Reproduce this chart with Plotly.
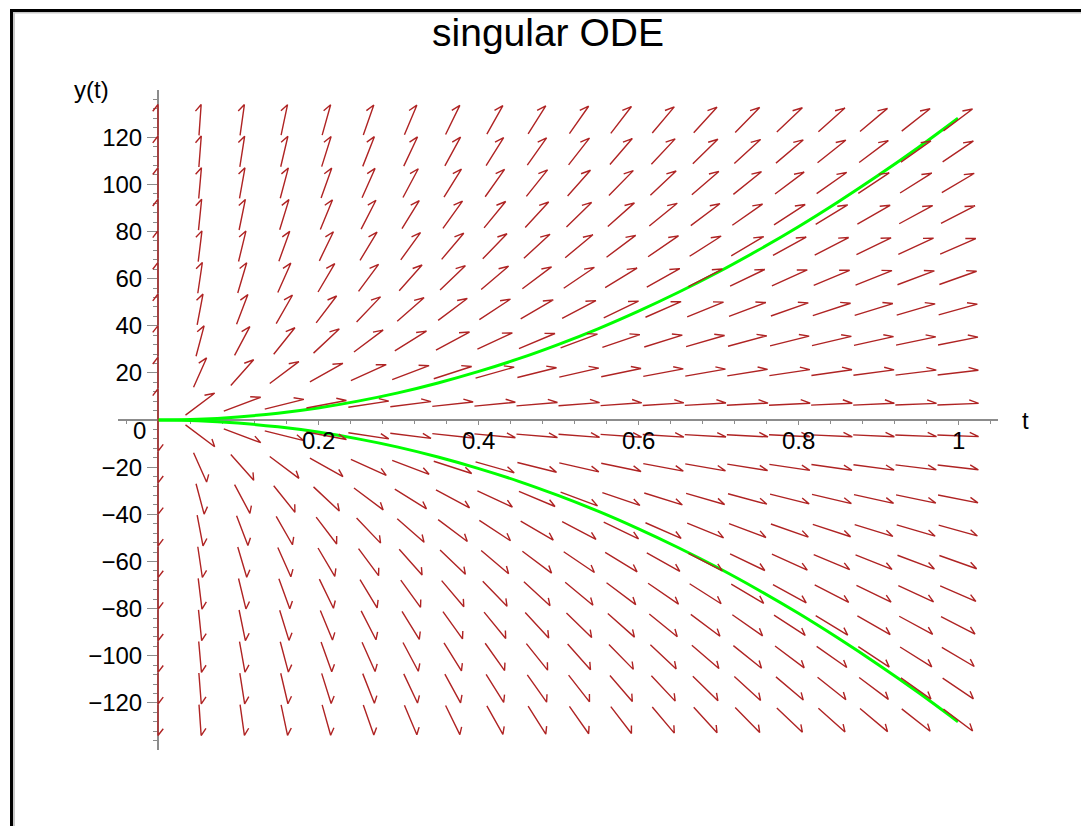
import math
import plotly.graph_objects as go

# ---------------- data ----------------
# direction-field grid (20 x 20)
t_grid = [0.0, 0.0526, 0.1053, 0.1579, 0.2105, 0.2632, 0.3158, 0.3684, 0.4211, 0.4737,
          0.5263, 0.5789, 0.6316, 0.6842, 0.7368, 0.7895, 0.8421, 0.8947, 0.9474, 1.0]
y_grid = [-127.3, -113.9, -100.5, -87.1, -73.7, -60.3, -46.9, -33.5, -20.1, -6.7,
          6.7, 20.1, 33.5, 46.9, 60.3, 73.7, 87.1, 100.5, 113.9, 127.3]

# the singular ODE  t*y' = 2*y
def ode_rhs(t, y):
    return 2.0 * y / t

# solution curves (green)
curve_t = [0.0, 0.05, 0.1, 0.15, 0.2, 0.25, 0.3, 0.35, 0.4, 0.45, 0.5,
           0.55, 0.6, 0.65, 0.7, 0.75, 0.8, 0.85, 0.9, 0.95, 1.0]
upper_y = [0, 0.3, 1.3, 2.9, 5.1, 8.0, 11.5, 15.7, 20.5, 25.9, 32.0,
           38.7, 46.1, 54.1, 62.7, 72.0, 81.9, 92.5, 103.7, 115.5, 128.0]
lower_y = [0, -0.3, -1.3, -2.9, -5.1, -8.0, -11.5, -15.7, -20.5, -25.9, -32.0,
           -38.7, -46.1, -54.1, -62.7, -72.0, -81.9, -92.5, -103.7, -115.5, -128.0]

# axis ticks
x_tickvals = [0.2, 0.4, 0.6, 0.8, 1.0]
x_ticktext = ["0.2", "0.4", "0.6", "0.8", "1"]
y_tickvals = [-120, -100, -80, -60, -40, -20, 20, 40, 60, 80, 100, 120]
y_ticktext = ["\u2212120", "\u2212100", "\u221280", "\u221260", "\u221240", "\u221220",
              "20", "40", "60", "80", "100", "120"]

# ---------------- build arrows (harpoon style) ----------------
dt_cell = t_grid[1] - t_grid[0]
dy_cell = y_grid[1] - y_grid[0]
L = 0.98          # arrow length in cell units
B = 0.25          # barb length in cell units
ANG = math.radians(30)

ax, ay = [], []
for t in t_grid:
    for y in y_grid:
        if t == 0:
            a, b = 0.0, (1.0 if y > 0 else -1.0)
        else:
            a, b = 1.0 / dt_cell, ode_rhs(t, y) / dy_cell
            n = math.hypot(a, b)
            a, b = a / n, b / n
        sx, sy = -a * L / 2, -b * L / 2
        ex, ey = a * L / 2, b * L / 2
        bx, by = -a, -b
        rx = bx * math.cos(-ANG) - by * math.sin(-ANG)
        ry = bx * math.sin(-ANG) + by * math.cos(-ANG)
        hx, hy = ex + rx * B, ey + ry * B
        ax += [t + sx * dt_cell, t + ex * dt_cell, t + hx * dt_cell, None]
        ay += [y + sy * dy_cell, y + ey * dy_cell, y + hy * dy_cell, None]

fig = go.Figure()
fig.add_trace(go.Scatter(x=curve_t, y=upper_y, mode="lines", line=dict(color="#00ff00", width=3, shape="spline"),
                         hoverinfo="skip", showlegend=False))
fig.add_trace(go.Scatter(x=curve_t, y=lower_y, mode="lines", line=dict(color="#00ff00", width=3, shape="spline"),
                         hoverinfo="skip", showlegend=False))
fig.add_trace(go.Scatter(x=ax, y=ay, mode="lines", line=dict(color="rgb(175,35,35)", width=1.4),
                         hoverinfo="skip", showlegend=False, connectgaps=False))

FONT = "Liberation Sans, Arial, Helvetica, sans-serif"
OFF = 8                      # page body margin of the html page
W, H = 1089 - OFF, 826 - OFF
ML, MT = 118 - OFF, 90 - OFF
PW, PH = 880, 660
MR, MB = W - ML - PW, H - MT - PH

def px(x):       # reference page pixel -> paper fraction
    return (x - OFF - ML) / PW

def py(y):
    return (MT + PH - (y - OFF)) / PH

x_minor = [round(-0.04 + 0.04 * i, 2) for i in range(28)]
y_minor = [-136 + 4 * i for i in range(69)]

annotations = [
    dict(text="y(t)", x=px(91), y=py(89), xref="paper", yref="paper", showarrow=False,
         xanchor="center", yanchor="middle", font=dict(family=FONT, size=24, color="black")),
    dict(text="t", x=px(1025), y=py(420), xref="paper", yref="paper", showarrow=False,
         xanchor="center", yanchor="middle", font=dict(family=FONT, size=24, color="black")),
    dict(text="0", x=px(139), y=py(431), xref="paper", yref="paper", showarrow=False,
         xanchor="center", yanchor="middle", font=dict(family=FONT, size=24, color="black")),
]
for v, s in zip(x_tickvals, x_ticktext):
    annotations.append(dict(text=s, x=v, y=py(440), xref="x", yref="paper", showarrow=False,
                            xanchor="center", yanchor="middle",
                            font=dict(family=FONT, size=24, color="black")))

fig.update_layout(
    width=W, height=H,
    margin=dict(l=ML, r=MR, t=MT, b=MB, autoexpand=False),
    paper_bgcolor="white", plot_bgcolor="white",
    showlegend=False,
    title=dict(text="singular ODE", x=(548 - OFF) / W, xref="container", xanchor="center",
               y=1 - (32 - OFF) / H, yref="container", yanchor="middle",
               font=dict(family=FONT, size=39, color="black")),
    xaxis=dict(range=[-0.05, 1.05], anchor="free", position=0.5, showline=True,
               linecolor="#8c8c8c", linewidth=2, showgrid=False, zeroline=False,
               ticks="outside", ticklen=4, tickwidth=1, tickcolor="#8c8c8c",
               tickmode="array", tickvals=x_tickvals, showticklabels=False,
               minor=dict(tickmode="array", tickvals=x_minor, ticks="outside", ticklen=3,
                          tickwidth=1, tickcolor="#8c8c8c", showgrid=False),
               layer="below traces", automargin=False, fixedrange=True),
    yaxis=dict(range=[-140, 140], anchor="free", position=0.05 / 1.1, showline=True,
               linecolor="#8c8c8c", linewidth=2, showgrid=False, zeroline=False,
               ticks="outside", ticklen=10, tickwidth=1, tickcolor="#8c8c8c",
               tickmode="array", tickvals=y_tickvals, ticktext=y_ticktext,
               tickfont=dict(family=FONT, size=24, color="black"),
               minor=dict(tickmode="array", tickvals=y_minor, ticks="outside", ticklen=4,
                          tickwidth=1, tickcolor="#8c8c8c", showgrid=False),
               layer="below traces", automargin=False, fixedrange=True),
    annotations=annotations,
    shapes=[
        dict(type="line", xref="paper", yref="paper", x0=px(14), x1=px(14), y0=py(12), y1=py(840),
             line=dict(color="#c8c8c8", width=2)),
        dict(type="line", xref="paper", yref="paper", x0=px(12), x1=px(1100), y0=py(12.5), y1=py(12.5),
             line=dict(color="#c8c8c8", width=2)),
        dict(type="line", xref="paper", yref="paper", x0=px(11.5), x1=px(11.5), y0=py(9), y1=py(840),
             line=dict(color="black", width=3)),
        dict(type="line", xref="paper", yref="paper", x0=px(10), x1=px(1100), y0=py(10.5), y1=py(10.5),
             line=dict(color="black", width=3)),
    ],
)

fig.write_html("out.html")
